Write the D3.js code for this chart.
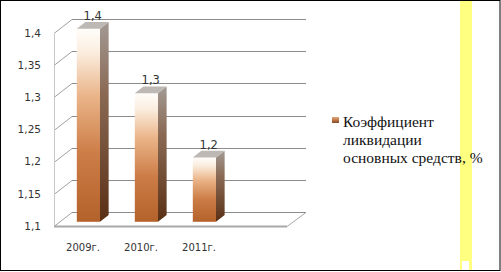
<!DOCTYPE html>
<html>
<head>
<meta charset="utf-8">
<script src="https://cdn.jsdelivr.net/npm/d3@7"></script>
<style>
  body { margin: 0; background: #fff; }
  svg { display: block; }
</style>
</head>
<body>
<div id="chart"></div>
<script>
const years = ["2009г.", "2010г.", "2011г."];
const values = [1.4, 1.3, 1.2];
const ticks = [1.1, 1.15, 1.2, 1.25, 1.3, 1.35, 1.4];
const seriesName = ["Коэффициент", "ликвидации", "основных средств, %"];

const WIDTH = 501, HEIGHT = 272;
const LEFT = 54, RIGHT = 287, TOP = 33, BOTTOM = 226;
const DX = 18, DY = -14;   // depth of the 3d box
const F0 = 0.3, F1 = 0.78;  // bar front / back in the depth

const svg = d3.select("#chart").append("svg").attr("width", WIDTH).attr("height", HEIGHT)
const defs = svg.append("defs")

const front = defs.append("linearGradient").attr("id", "front").attr("x1", 0).attr("y1", 0).attr("x2", 0).attr("y2", 1)
front.append("stop").attr("offset", "0%").attr("stop-color", "#fffdfa")
front.append("stop").attr("offset", "12%").attr("stop-color", "#fbeee0")
front.append("stop").attr("offset", "35%").attr("stop-color", "#eab488")
front.append("stop").attr("offset", "65%").attr("stop-color", "#cc7c46")
front.append("stop").attr("offset", "100%").attr("stop-color", "#b4622c")

const side = defs.append("linearGradient").attr("id", "side").attr("x1", 0).attr("y1", 0).attr("x2", 0).attr("y2", 1)
side.append("stop").attr("offset", "0%").attr("stop-color", "#a39a94")
side.append("stop").attr("offset", "35%").attr("stop-color", "#8a6a55")
side.append("stop").attr("offset", "100%").attr("stop-color", "#5a3015")

const mark = defs.append("linearGradient").attr("id", "mark").attr("x1", 0).attr("y1", 0).attr("x2", 0).attr("y2", 1)
mark.append("stop").attr("offset", "0%").attr("stop-color", "#e8a878")
mark.append("stop").attr("offset", "100%").attr("stop-color", "#8a4a20")

// yellow stripe at the right
svg.append("rect").attr("x", 460).attr("y", 0).attr("width", 12).attr("height", 271).attr("fill", "#ffff80")
svg.append("rect").attr("x", 462).attr("y", 261).attr("width", 7).attr("height", 10).attr("fill", "#fff")

// scales
const y_scale = d3.scaleLinear().domain([1.1, 1.4]).range([BOTTOM, TOP])
const x_scale = d3.scaleBand().domain(years).range([LEFT, 228]).paddingInner(0.6).paddingOuter(0.3)

const grid = svg.append("g").attr("stroke", "#8c8c8c").attr("stroke-width", 1).attr("fill", "none")

// left wall and back wall lines
ticks.forEach(t => {
    const yy = Math.round(y_scale(t)) + 0.5
    grid.append("line").attr("x1", LEFT).attr("y1", yy).attr("x2", LEFT + DX).attr("y2", yy + DY).attr("stroke", "#a0a0a0")
    grid.append("line").attr("x1", LEFT + DX).attr("y1", yy + DY).attr("x2", RIGHT + DX + 1).attr("y2", yy + DY)
})
grid.append("line").attr("x1", LEFT + 0.5).attr("y1", y_scale(1.4)).attr("x2", LEFT + 0.5).attr("y2", BOTTOM).attr("stroke", "#c8c8c8")

// floor
grid.append("line").attr("x1", LEFT).attr("y1", BOTTOM + 0.5).attr("x2", RIGHT).attr("y2", BOTTOM + 0.5).attr("stroke", "#a8a8a8").attr("stroke-width", 2)
grid.append("line").attr("x1", RIGHT).attr("y1", BOTTOM + 0.5).attr("x2", RIGHT + DX + 1).attr("y2", BOTTOM + 0.5 + DY).attr("stroke", "#a8a8a8")

// bars
const bars = svg.append("g")
const bw = x_scale.bandwidth()
const ddx = DX * (F1 - F0), ddy = DY * (F1 - F0)
years.forEach((c, i) => {
    const x0 = x_scale(c) + DX * F0
    const yTop = y_scale(values[i]) + DY * F0
    const yBot = y_scale(1.1) + DY * F0
    bars.append("rect").attr("x", x0).attr("y", yTop).attr("width", bw).attr("height", yBot - yTop).attr("fill", "url(#front)")
    bars.append("polygon").attr("points", [[x0 + bw, yTop], [x0 + bw + ddx, yTop + ddy], [x0 + bw + ddx, yBot + ddy], [x0 + bw, yBot]].join(" "))
        .attr("fill", "url(#side)")
    bars.append("polygon").attr("points", [[x0, yTop], [x0 + ddx, yTop + ddy], [x0 + bw + ddx, yTop + ddy], [x0 + bw, yTop]].join(" "))
        .attr("fill", "#bdb8b3")
    bars.append("text").attr("x", x0 + bw / 2 + ddx / 2).attr("y", yTop + ddy - 2)
        .attr("text-anchor", "middle").attr("font-family", "DejaVu Sans").attr("font-size", "11.5px").attr("fill", "#333")
        .text(String(values[i]).replace(".", ","))
})

// y labels
const fmt = d => String(Math.round(d * 100) / 100).replace(".", ",")
svg.append("g").selectAll("text").data(ticks).enter().append("text")
    .attr("x", 41).attr("y", d => y_scale(d)).attr("dy", "0.35em").attr("text-anchor", "end")
    .attr("font-family", "DejaVu Sans").attr("font-size", "10.5px").attr("fill", "#333").text(fmt)

// x labels
svg.append("g").selectAll("text").data(years).enter().append("text")
    .attr("x", d => x_scale(d) + bw / 2).attr("y", 251).attr("text-anchor", "middle")
    .attr("font-family", "DejaVu Sans").attr("font-size", "10px").attr("fill", "#333").text(d => d)

// legend
const legend = svg.append("g")
legend.append("rect").attr("x", 332).attr("y", 117).attr("width", 7).attr("height", 6).attr("fill", "url(#mark)")
seriesName.forEach((s, i) => {
    legend.append("text").attr("x", 343).attr("y", 127 + i * 18).attr("font-family", "Liberation Serif")
        .attr("font-size", "15.5px").attr("fill", "#111").text(s)
})

// frame
svg.append("rect").attr("x", 0.5).attr("y", 0.5).attr("width", 499.5).attr("height", 270).attr("fill", "none").attr("stroke", "#000")
</script>
</body>
</html>
